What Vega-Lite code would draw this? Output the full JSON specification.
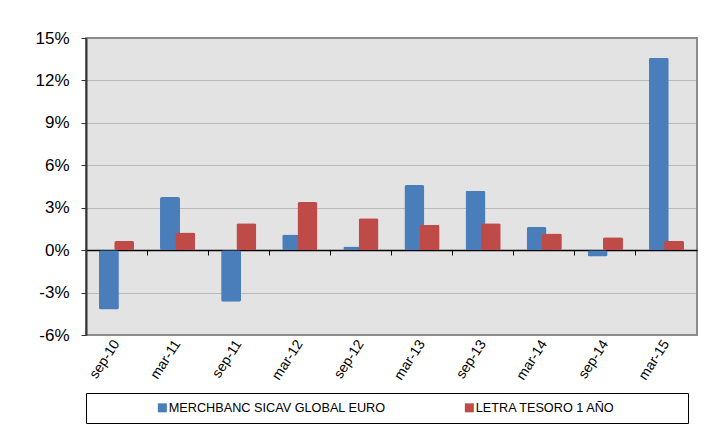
{
  "$schema": "https://vega.github.io/schema/vega-lite/v6.json",
  "width": 611,
  "height": 297,
  "autosize": "none",
  "padding": {"left": 86, "top": 38, "right": 26, "bottom": 100},
  "background": "white",
  "config": {
    "font": "Liberation Sans",
    "view": {"fill": "#e3e3e3", "stroke": "#8c8c8c", "strokeWidth": 2},
    "axis": {"labelFont": "Liberation Sans", "labelColor": "#000"}
  },
  "data": {
    "values": [
      {"period": "sep-10", "series": "MERCHBANC SICAV GLOBAL EURO", "value": -4.2},
      {"period": "mar-11", "series": "MERCHBANC SICAV GLOBAL EURO", "value": 3.75},
      {"period": "sep-11", "series": "MERCHBANC SICAV GLOBAL EURO", "value": -3.65},
      {"period": "mar-12", "series": "MERCHBANC SICAV GLOBAL EURO", "value": 1.1},
      {"period": "sep-12", "series": "MERCHBANC SICAV GLOBAL EURO", "value": 0.25},
      {"period": "mar-13", "series": "MERCHBANC SICAV GLOBAL EURO", "value": 4.6},
      {"period": "sep-13", "series": "MERCHBANC SICAV GLOBAL EURO", "value": 4.2},
      {"period": "mar-14", "series": "MERCHBANC SICAV GLOBAL EURO", "value": 1.63},
      {"period": "sep-14", "series": "MERCHBANC SICAV GLOBAL EURO", "value": -0.45},
      {"period": "mar-15", "series": "MERCHBANC SICAV GLOBAL EURO", "value": 13.6},
      {"period": "sep-10", "series": "LETRA TESORO 1 AÑO", "value": 0.64},
      {"period": "mar-11", "series": "LETRA TESORO 1 AÑO", "value": 1.25},
      {"period": "sep-11", "series": "LETRA TESORO 1 AÑO", "value": 1.9},
      {"period": "mar-12", "series": "LETRA TESORO 1 AÑO", "value": 3.4},
      {"period": "sep-12", "series": "LETRA TESORO 1 AÑO", "value": 2.26},
      {"period": "mar-13", "series": "LETRA TESORO 1 AÑO", "value": 1.8},
      {"period": "sep-13", "series": "LETRA TESORO 1 AÑO", "value": 1.9},
      {"period": "mar-14", "series": "LETRA TESORO 1 AÑO", "value": 1.18},
      {"period": "sep-14", "series": "LETRA TESORO 1 AÑO", "value": 0.92},
      {"period": "mar-15", "series": "LETRA TESORO 1 AÑO", "value": 0.66}
    ]
  },
  "layer": [
    {
      "mark": {"type": "bar", "width": 20, "cornerRadius": 2},
      "encoding": {
        "x": {
          "field": "period", "type": "nominal", "sort": null,
          "scale": {"paddingInner": 0, "paddingOuter": 0},
          "axis": {"title": null, "ticks": false, "domain": false, "grid": false, "labelAngle": -57, "labelFontSize": 14, "labelPadding": 6, "labelAlign": "right", "labelBaseline": "middle"}
        },
        "xOffset": {"field": "series", "sort": null, "scale": {"paddingInner": 0, "paddingOuter": 1.04}},
        "y": {
          "field": "value", "type": "quantitative",
          "scale": {"domain": [-6, 15], "nice": false, "zero": false},
          "axis": {"title": null, "values": [-6, -3, 0, 3, 6, 9, 12, 15], "labelExpr": "datum.value + '%'", "labelFontSize": 17, "labelPadding": 12, "tickSize": 5, "tickColor": "#333", "domainColor": "#333", "domainWidth": 2, "grid": true, "gridColor": "#8e8e8e", "gridDash": [1, 1], "gridWidth": 1}
        },
        "color": {
          "field": "series", "type": "nominal", "sort": null,
          "scale": {"domain": ["MERCHBANC SICAV GLOBAL EURO", "LETRA TESORO 1 AÑO"], "range": ["#4a7ebb", "#be4b48"]},
          "legend": {"title": " ", "titleOrient": "right", "titleFontSize": 1, "titlePadding": 65, "symbolOffset": 62, "orient": "bottom", "direction": "horizontal", "strokeColor": "#000", "fillColor": "#fff", "padding": 8, "symbolType": "square", "symbolSize": 81, "symbolStrokeWidth": 0, "labelFontSize": 12.7, "labelOffset": 0, "labelLimit": 400, "columnPadding": 15, "offset": 10, "labelFont": "Liberation Sans", "labelColor": "#000"}
        }
      }
    },
    {
      "mark": {"type": "point", "opacity": 0},
      "encoding": {
        "x": {
          "field": "period", "type": "nominal", "sort": null,
          "axis": {"orient": "bottom", "offset": -85, "labels": false, "ticks": true, "bandPosition": 0, "domainColor": "#000", "domainWidth": 1.5, "tickColor": "#000", "tickSize": 5, "grid": false, "title": null}
        },
        "y": {"datum": 0, "type": "quantitative"}
      }
    }
  ],
  "resolve": {"axis": {"x": "independent"}}
}
